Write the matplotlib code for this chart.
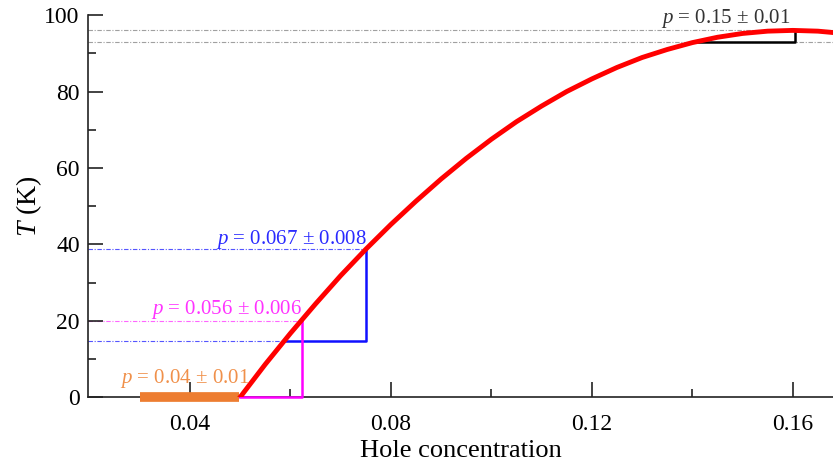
import matplotlib
matplotlib.use("Agg")
import matplotlib.pyplot as plt

plt.rcParams['font.family'] = ['Liberation Serif', 'DejaVu Serif']
plt.rcParams['mathtext.fontset'] = 'custom'
plt.rcParams['mathtext.rm'] = 'Liberation Serif'
plt.rcParams['mathtext.it'] = 'Liberation Serif:italic'

# Tc dome
dome_p = [0.050, 0.055, 0.060, 0.065, 0.070, 0.075, 0.080, 0.085, 0.090, 0.095,
          0.100, 0.105, 0.110, 0.115, 0.120, 0.125, 0.130, 0.135, 0.140, 0.145,
          0.150, 0.155, 0.160, 0.165, 0.170]
dome_T = [0.0, 8.6, 16.7, 24.4, 31.8, 38.7, 45.2, 51.3, 57.1, 62.5,
          67.5, 72.1, 76.2, 80.0, 83.3, 86.3, 88.9, 91.0, 92.8, 94.2,
          95.2, 95.8, 96.0, 95.8, 95.2]

# reference levels / brackets
gray_levels = [96.0, 93.0]
black_bracket_p = [0.141, 0.1605, 0.1605]
black_bracket_T = [93.0, 93.0, 96.0]

blue_levels = [38.7, 14.8]
blue_bracket_p = [0.0589, 0.075, 0.075]
blue_bracket_T = [14.8, 14.8, 38.7]

magenta_level = 20.0
magenta_bracket_p = [0.050, 0.0623, 0.0623]
magenta_bracket_T = [0.0, 0.0, 20.0]

orange_p = [0.030, 0.0497]
orange_T = [0.0, 0.0]

labels = ['$p$ = 0.15 ± 0.01', '$p$ = 0.067 ± 0.008',
          '$p$ = 0.056 ± 0.006', '$p$ = 0.04 ± 0.01']
label_p = [0.1596, 0.0752, 0.0623, 0.0518]
label_T = [98.0, 40.2, 21.8, 3.6]
label_colors = ['#333333', '#2a2aff', '#ff33ff', '#f0904a']

x0 = 0.0197
fig = plt.figure(figsize=(8.33, 4.65), dpi=100)
ax = fig.add_axes([0.1056, 0.146, 0.8944, 0.8215])
ax.set_xlim(x0, 0.168)
ax.set_ylim(0, 100)

dd = (0, (4, 1.5, 1, 1.5))
for lv in gray_levels:
    ax.axhline(lv, color='#a0a0a0', lw=0.8, ls=dd, zorder=1)
ax.plot([x0, blue_bracket_p[0]], [blue_levels[1]] * 2, color='#5555ff', lw=0.8, ls=dd, zorder=1)
ax.plot([x0, blue_bracket_p[1]], [blue_levels[0]] * 2, color='#5555ff', lw=0.8, ls=dd, zorder=1)
ax.plot([x0, magenta_bracket_p[1]], [magenta_level] * 2, color='#ff66ff', lw=0.8, ls=dd, zorder=1)

ax.plot(black_bracket_p, black_bracket_T, color='black', lw=1.8, zorder=2)
ax.plot(blue_bracket_p, blue_bracket_T, color='#1010ff', lw=1.8, zorder=2)
ax.plot(magenta_bracket_p, magenta_bracket_T, color='#ff00ff', lw=1.8, zorder=3, clip_on=False)
ax.plot(orange_p, orange_T, color='#ed7d31', lw=7, solid_capstyle='butt', zorder=4, clip_on=False)
ax.plot(dome_p, dome_T, color='#ff0000', lw=3.5, zorder=5, solid_joinstyle='round')

for txt, px, ty, c in zip(labels, label_p, label_T, label_colors):
    ax.text(px, ty, txt, color=c, fontsize=15, ha='right', va='baseline', zorder=6)

for s in ['top', 'right']:
    ax.spines[s].set_visible(False)
for s in ['left', 'bottom']:
    ax.spines[s].set_linewidth(1.2)
    ax.spines[s].set_color('#222222')
    ax.spines[s].set_zorder(2.5)

ax.set_xticks([0.04, 0.08, 0.12, 0.16])
ax.set_xticklabels(['0.04', '0.08', '0.12', '0.16'])
ax.set_xticks([0.06, 0.10, 0.14], minor=True)
ax.set_yticks([0, 20, 40, 60, 80, 100])
ax.set_yticks([10, 30, 50, 70, 90], minor=True)
ax.tick_params(which='major', direction='in', length=11, width=1.2, labelsize=17, color='#222222')
ax.tick_params(which='minor', direction='in', length=5.5, width=1.2, color='#222222')
ax.tick_params(axis='x', which='major', pad=12)
ax.tick_params(axis='y', which='major', pad=6)

ax.set_xlabel('Hole concentration', fontsize=19, labelpad=4)
ax.set_ylabel('$T$ (K)', fontsize=20, labelpad=0)

fig.savefig('out.png', dpi=100)
